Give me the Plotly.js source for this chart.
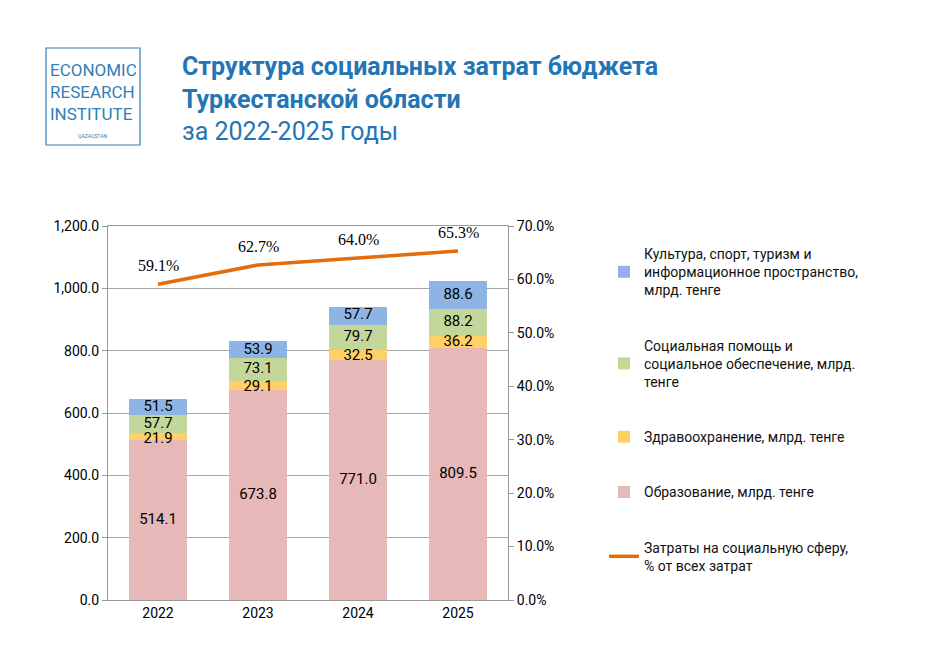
<!DOCTYPE html>
<html><head><meta charset="utf-8">
<script src="https://cdn.plot.ly/plotly-3.0.1.min.js"></script>
<style>body{margin:0;background:#fff}#chart{width:925px;height:672px}</style>
</head><body><div id="chart"></div>
<script>
const years = [2022, 2023, 2024, 2025];
const education = [514.1, 673.8, 771.0, 809.5];
const health = [21.9, 29.1, 32.5, 36.2];
const social = [57.7, 73.1, 79.7, 88.2];
const culture = [51.5, 53.9, 57.7, 88.6];
const share = [59.1, 62.7, 64.0, 65.3];

const series = [
  { name: 'Образование, млрд. тенге', y: education, color: '#e6b8b7' },
  { name: 'Здравоохранение, млрд. тенге', y: health, color: '#ffd066' },
  { name: 'Социальная помощь и<br>социальное обеспечение, млрд.<br>тенге', y: social, color: '#c4d79b' },
  { name: 'Культура, спорт, туризм и<br>информационное пространство,<br>млрд. тенге', y: culture, color: '#8db4e2' }
];

// pixel -> paper helpers (plot area is 108..508 x 226..600)
const px = X => (X - 108) / 400;
const py = Y => (600 - Y) / 374;

const traces = [];
const base = years.map(() => 0);
const labelY = [], labelX = [], labelT = [];
series.forEach((s, k) => {
  traces.push({ type: 'bar', x: years, y: s.y, name: s.name, marker: { color: s.color },
    width: 0.58, legendrank: 10 - k, hoverinfo: 'skip' });
  s.y.forEach((v, i) => {
    labelX.push(years[i]);
    labelY.push(v < 40 ? base[i] + v - 20 : base[i] + v / 2);
    labelT.push(v.toFixed(1));
    base[i] += v;
  });
});
traces.push({ type: 'scatter', mode: 'text', x: labelX, y: labelY, text: labelT, showlegend: false,
  textfont: { family: 'Roboto, Arial', size: 15, color: '#000' }, hoverinfo: 'skip' });
traces.push({ type: 'scatter', mode: 'lines', x: years, y: share, yaxis: 'y2',
  name: 'Затраты на социальную сферу,<br>% от всех затрат', line: { color: '#e46c0a', width: 3.5 }, legendrank: 20 });

const annotations = years.map((yr, i) => ({
  x: yr, y: share[i], yref: 'y2', text: share[i].toFixed(1) + '%', showarrow: false, yshift: 19,
  font: { family: 'Liberation Serif, Times New Roman', size: 16, color: '#000' }
}));
annotations.push(
  { xref: 'paper', yref: 'paper', x: px(180), y: py(50), xanchor: 'left', yanchor: 'top', align: 'left',
    showarrow: false, text: '<b>Структура социальных затрат бюджета<br>Туркестанской области</b><br>за 2022-2025 годы',
    font: { family: 'Roboto, Arial', size: 25, color: '#2475b5' } },
  { xref: 'paper', yref: 'paper', x: px(48), y: py(58), xanchor: 'left', yanchor: 'top', align: 'left',
    showarrow: false, text: 'ECONOMIC<br>RESEARCH<br>INSTITUTE',
    font: { family: 'Roboto, Arial', size: 17, color: '#2f7fb8' } },
  { xref: 'paper', yref: 'paper', x: px(92), y: py(136), xanchor: 'center', yanchor: 'middle',
    showarrow: false, text: 'QAZAQSTAN', font: { family: 'Roboto, Arial', size: 5, color: '#2f7fb8' } }
);

const layout = {
  width: 925, height: 672, margin: { l: 108, r: 417, t: 226, b: 72 },
  paper_bgcolor: '#fff', plot_bgcolor: '#fff', barmode: 'stack',
  font: { family: 'Roboto, Arial', size: 14, color: '#000' },
  xaxis: { range: [2021.5, 2025.5], tickvals: years, ticktext: years.map(String), showline: true,
    linecolor: '#999', mirror: true, ticks: '', showgrid: false, zeroline: false, tickfont: { size: 14 } },
  yaxis: { range: [0, 1200], dtick: 200, tickformat: ',.1f', gridcolor: '#a6a6a6', showline: true, linecolor: '#999',
    ticks: 'outside', ticklen: 5, tickcolor: '#999', zeroline: false, tickfont: { size: 14 } },
  yaxis2: { overlaying: 'y', side: 'right', range: [0, 70], dtick: 10, ticksuffix: '%', tickformat: '.1f',
    showgrid: false, showline: true, linecolor: '#999', ticks: 'outside', ticklen: 5, tickcolor: '#999', zeroline: false,
    tickfont: { size: 14 } },
  legend: { x: px(604), xanchor: 'left', y: py(238), yanchor: 'top', tracegroupgap: 34, traceorder: 'grouped',
    font: { size: 14, color: '#111' } },
  annotations: annotations,
  shapes: [{ type: 'rect', xref: 'paper', yref: 'paper', x0: px(46), x1: px(140),
    y0: py(145), y1: py(48), line: { color: '#2f7fb8', width: 1.2 } }]
};
traces.forEach((t, i) => { t.legendgroup = 'g' + i; });
Plotly.newPlot('chart', traces, layout, { displayModeBar: false });
</script></body></html>
